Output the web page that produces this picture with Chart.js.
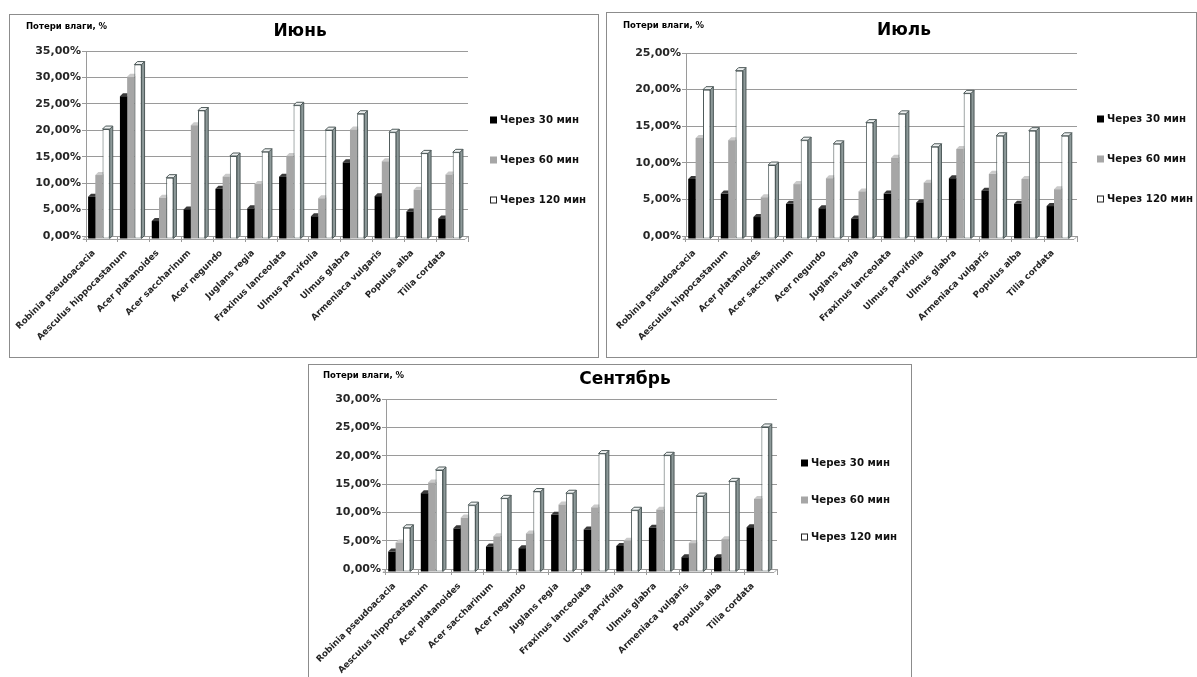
<!DOCTYPE html>
<html>
<head>
<meta charset="utf-8">
<script src="https://cdn.jsdelivr.net/npm/chart.js@4.4.1/dist/chart.umd.min.js"></script>
<style>
  html, body { margin: 0; padding: 0; background: #fff; }
  body { width: 1197px; height: 677px; overflow: hidden; position: relative; }
  .panel { position: absolute; border: 1px solid #8c8c8c; background: #fff; box-sizing: border-box; }
  .panel canvas { position: absolute; left: 0; top: 0; }
</style>
</head>
<body>
<div class="panel" style="left:9px;top:14px;width:590px;height:344px"><canvas id="cJune" width="588" height="342"></canvas></div>
<div class="panel" style="left:606px;top:12px;width:591px;height:346px"><canvas id="cJuly" width="589" height="344"></canvas></div>
<div class="panel" style="left:308px;top:364px;width:604px;height:330px"><canvas id="cSep" width="602" height="328"></canvas></div>
<script>
// Species on the category axis
const categories = [
  'Robinia pseudoacacia', 'Aesculus hippocastanum', 'Acer platanoides', 'Acer saccharinum',
  'Acer negundo', 'Juglans regia', 'Fraxinus lanceolata', 'Ulmus parvifolia',
  'Ulmus glabra', 'Armeniaca vulgaris', 'Populus alba', 'Tilia cordata'
];
const seriesNames = ['Через 30 мин', 'Через 60 мин', 'Через 120 мин'];
const monthTitles = ['Июнь', 'Июль', 'Сентябрь'];
const axisCaption = 'Потери влаги, %';

// Moisture loss, % — June
const june30  = [8.0, 27.0, 3.4, 5.6, 9.5, 5.8, 11.8, 4.3, 14.5, 8.1, 5.2, 3.9];
const june60  = [12.1, 30.7, 7.8, 21.5, 11.8, 10.4, 15.7, 7.7, 20.7, 14.7, 9.3, 12.2];
const june120 = [20.8, 33.0, 11.6, 24.3, 15.7, 16.5, 25.3, 20.6, 23.7, 20.2, 16.2, 16.4];
// July
const july30  = [8.2, 6.2, 3.0, 4.8, 4.2, 2.8, 6.2, 5.0, 8.3, 6.6, 4.8, 4.5];
const july60  = [13.8, 13.5, 5.7, 7.5, 8.3, 6.5, 11.1, 7.7, 12.3, 8.9, 8.2, 6.8];
const july120 = [20.4, 23.0, 10.1, 13.5, 13.0, 15.9, 17.1, 12.6, 19.9, 14.1, 14.8, 14.1];
// September
const sep30   = [3.6, 13.9, 7.7, 4.5, 4.2, 10.1, 7.5, 4.6, 7.8, 2.6, 2.6, 7.9];
const sep60   = [5.2, 15.8, 9.6, 6.3, 6.8, 11.9, 11.4, 5.5, 11.0, 5.1, 5.8, 12.9];
const sep120  = [7.8, 18.0, 11.8, 13.0, 14.2, 13.9, 20.9, 10.9, 20.6, 13.4, 16.0, 25.6];

// Value axis limits
const yMaxJune = 35, yMaxJuly = 25, yMaxSep = 30, yStep = 5;

Chart.defaults.font.family = '"DejaVu Sans", sans-serif';
Chart.defaults.color = '#262626';

const DEPTH = 3;
const barFill = ['#000000', '#a6a6a6', '#ffffff'];
const barEdge = ['#000000', '#a6a6a6', '#4d5959'];
const faceStyles = [
  { top: '#3a3a3a', side: '#1a1a1a', edge: null },
  { top: '#cacaca', side: '#808080', edge: null },
  { top: '#eef1f1', side: '#8d9999', edge: '#4d5959' }
];

// Oblique top/side faces and floor edge for a pseudo-3D column look
const depthPlugin = {
  id: 'depth',
  beforeDatasetsDraw(chart) {
    const ctx = chart.ctx, a = chart.chartArea, d = DEPTH;
    ctx.save();
    ctx.strokeStyle = '#a0a0a0';
    ctx.lineWidth = 1;
    ctx.beginPath();
    ctx.moveTo(a.left - d, a.bottom + d + 0.5);
    ctx.lineTo(a.right - d, a.bottom + d + 0.5);
    ctx.lineTo(a.right, a.bottom + 0.5);
    ctx.moveTo(a.left, a.bottom + 0.5);
    ctx.lineTo(a.left - d, a.bottom + d + 0.5);
    ctx.stroke();
    ctx.translate(-d, d);
    chart.data.datasets.forEach((ds, i) => {
      const meta = chart.getDatasetMeta(i);
      const st = faceStyles[i];
      meta.data.forEach(el => {
        const l = el.x - el.width / 2, r = el.x + el.width / 2, t = el.y, b = el.base;
        ctx.lineWidth = 1;
        ctx.fillStyle = st.side;
        ctx.beginPath();
        ctx.moveTo(r, t); ctx.lineTo(r + d, t - d); ctx.lineTo(r + d, b - d); ctx.lineTo(r, b);
        ctx.closePath(); ctx.fill();
        if (st.edge) { ctx.strokeStyle = st.edge; ctx.stroke(); }
        ctx.fillStyle = st.top;
        ctx.beginPath();
        ctx.moveTo(l, t); ctx.lineTo(l + d, t - d); ctx.lineTo(r + d, t - d); ctx.lineTo(r, t);
        ctx.closePath(); ctx.fill();
        if (st.edge) { ctx.strokeStyle = st.edge; ctx.stroke(); }
      });
    });
  },
  afterDatasetsDraw(chart) { chart.ctx.restore(); }
};

// Month title, axis caption and the series key beside the plot
const panelTextPlugin = {
  id: 'panelText',
  afterDraw(chart, args, o) {
    const ctx = chart.ctx;
    ctx.save();
    ctx.textBaseline = 'middle';
    ctx.fillStyle = '#000';
    ctx.textAlign = 'center';
    ctx.font = 'bold 17px "DejaVu Sans"';
    ctx.fillText(o.title, o.titleX, o.titleY);
    ctx.textAlign = 'left';
    ctx.font = 'bold 8.5px "DejaVu Sans"';
    ctx.fillText(o.caption, o.captionX, o.captionY);
    ctx.font = 'bold 10.2px "DejaVu Sans"';
    chart.data.datasets.forEach((ds, i) => {
      const cy = o.legendY + i * o.legendStep;
      ctx.fillStyle = ds.backgroundColor;
      ctx.fillRect(o.legendX, cy - 3.5, 7, 7);
      if (ds.borderWidth) {
        ctx.strokeStyle = '#222';
        ctx.lineWidth = 1;
        ctx.strokeRect(o.legendX + 0.5, cy - 3, 6, 6);
      }
      ctx.fillStyle = '#111';
      ctx.fillText(ds.label, o.legendX + 10, cy);
    });
    ctx.restore();
  }
};

function pct(v) { return v.toFixed(2).replace('.', ',') + '%'; }

function makeChart(id, values, yMax, title, g) {
  const datasets = values.map((vals, i) => ({
    label: seriesNames[i],
    data: vals,
    backgroundColor: barFill[i],
    borderColor: barEdge[i],
    borderWidth: i === 2 ? 1 : 0,
    borderSkipped: false,
    barPercentage: 1.0,
    categoryPercentage: 0.68,
    clip: false
  }));
  return new Chart(document.getElementById(id), {
    type: 'bar',
    data: { labels: categories, datasets },
    options: {
      responsive: false,
      animation: false,
      events: [],
      layout: { padding: { left: 0, top: g.top, right: g.right, bottom: 0 } },
      plugins: {
        legend: { display: false },
        tooltip: { enabled: false },
        panelText: {
          title, titleX: g.titleX, titleY: g.titleY,
          caption: axisCaption, captionX: g.capX, captionY: g.capY,
          legendX: g.legX, legendY: g.legY, legendStep: g.legStep
        }
      },
      scales: {
        x: {
          offset: true,
          afterFit(s) { s.height = g.xh; },
          grid: { display: true, drawOnChartArea: false, drawTicks: true, tickLength: 6, color: '#9a9a9a', offset: true },
          border: { display: true, color: '#9a9a9a' },
          ticks: {
            autoSkip: false, minRotation: 45, maxRotation: 45, padding: 6, labelOffset: -8,
            font: { size: 8.8, weight: 'bold' }, color: '#262626'
          }
        },
        y: {
          min: 0, max: yMax,
          afterFit(s) { s.width = g.yw; },
          grid: { color: '#9a9a9a', lineWidth: 1, tickLength: 4 },
          border: { display: true, color: '#9a9a9a' },
          ticks: { stepSize: yStep, padding: 1, font: { size: 11, weight: 'bold' }, color: '#262626', callback: v => pct(v) }
        }
      }
    },
    plugins: [depthPlugin, panelTextPlugin]
  });
}

makeChart('cJune', [june30, june60, june120], yMaxJune, monthTitles[0], {
  top: 36, right: 130, xh: 121, yw: 76,
  titleX: 290, titleY: 17, capX: 16, capY: 12,
  legX: 480, legY: 105, legStep: 40
});
makeChart('cJuly', [july30, july60, july120], yMaxJuly, monthTitles[1], {
  top: 40, right: 119, xh: 121, yw: 79,
  titleX: 297, titleY: 18, capX: 16, capY: 13,
  legX: 490, legY: 106, legStep: 40
});
makeChart('cSep', [sep30, sep60, sep120], yMaxSep, monthTitles[2], {
  top: 34, right: 134, xh: 124, yw: 77,
  titleX: 316, titleY: 15, capX: 14, capY: 11,
  legX: 492, legY: 98, legStep: 37
});
</script>
</body>
</html>
